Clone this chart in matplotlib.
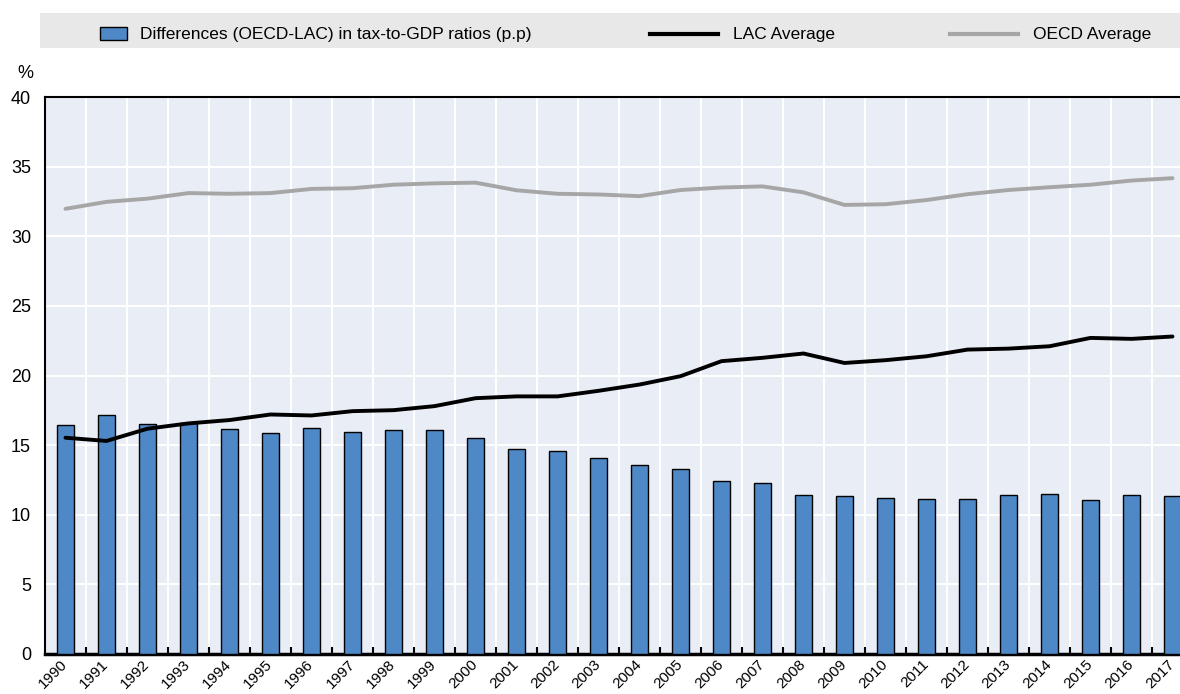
import matplotlib
matplotlib.use("Agg")
import matplotlib.pyplot as plt
import numpy as np
from matplotlib.patches import Rectangle
from matplotlib.lines import Line2D

plt.rcParams['font.family'] = ['Liberation Sans', 'DejaVu Sans']

years = [str(y) for y in range(1990, 2018)]

# OECD minus LAC gap, percentage points
gap = [16.44, 17.16, 16.51, 16.6, 16.18, 15.84, 16.25, 15.96, 16.06, 16.06,
       15.48, 14.74, 14.55, 14.05, 13.55, 13.26, 12.40, 12.28, 11.40, 11.35,
       11.18, 11.11, 11.16, 11.42, 11.47, 11.04, 11.40, 11.38]

lac_avg = [15.53, 15.3, 16.18, 16.56, 16.8, 17.2, 17.13, 17.44, 17.51, 17.8,
           18.37, 18.5, 18.5, 18.9, 19.35, 19.95, 21.03, 21.27, 21.58, 20.9,
           21.1, 21.38, 21.86, 21.93, 22.1, 22.7, 22.63, 22.8]

oecd_avg = [31.97, 32.47, 32.7, 33.1, 33.05, 33.1, 33.4, 33.45, 33.7, 33.8,
            33.85, 33.3, 33.05, 33.0, 32.88, 33.32, 33.5, 33.58, 33.15, 32.25,
            32.3, 32.6, 33.02, 33.32, 33.52, 33.7, 34.0, 34.17]

blue = '#4E88C7'
grey = '#A6A6A6'

fig = plt.figure(figsize=(11.8, 6.94), dpi=100)
ax = fig.add_axes([45 / 1180, 40 / 694, 1148 / 1180, 557 / 694])
ax.set_facecolor('#E9EDF6')

x = np.arange(len(years))
ax.bar(x, gap, width=0.42, color=blue, edgecolor='black', linewidth=1.0, zorder=3)
ax.plot(x, lac_avg, color='black', linewidth=2.8, solid_capstyle='round',
        solid_joinstyle='round', zorder=4)
ax.plot(x, oecd_avg, color=grey, linewidth=2.8, solid_capstyle='round',
        solid_joinstyle='round', zorder=4)

ax.set_xlim(-0.5, len(years) - 0.5)
ax.set_ylim(0, 40)
ax.set_yticks(range(0, 41, 5))
ax.set_xticks(x)
ax.set_xticklabels(years, rotation=45, ha='right', va='center',
                   rotation_mode='anchor', fontsize=11)
ax.set_xticks(x[:-1] + 0.5, minor=True)
ax.tick_params(axis='x', which='major', length=0, pad=6)
ax.tick_params(axis='x', which='minor', direction='in', length=5, width=1.5, color='black')
ax.tick_params(axis='y', length=0, labelsize=13, pad=10)

ax.grid(axis='y', color='white', linewidth=1.5, zorder=0)
ax.grid(axis='x', which='minor', color='white', linewidth=1.5, zorder=0)
ax.set_axisbelow(True)

for side in ['left', 'top', 'right']:
    ax.spines[side].set_linewidth(1.5)
ax.spines['bottom'].set_linewidth(2.5)

fig.text(25 / 1180, 1 - 73 / 694, '%', fontsize=13, ha='center', va='center')

# legend band
fig.patches.append(Rectangle((40 / 1180, 1 - 48 / 694), 1140 / 1180, 35 / 694,
                             transform=fig.transFigure, facecolor='#E8E8E8',
                             edgecolor='none', zorder=0))
ly = 1 - 34 / 694
fig.patches.append(Rectangle((100 / 1180, 1 - 40 / 694), 27 / 1180, 13 / 694,
                             transform=fig.transFigure, facecolor=blue,
                             edgecolor='black', linewidth=1.0))
fig.text(140 / 1180, ly, 'Differences (OECD-LAC) in tax-to-GDP ratios (p.p)',
         fontsize=12.5, va='center')
fig.lines.append(Line2D([650 / 1180, 718 / 1180], [ly, ly], transform=fig.transFigure,
                        color='black', linewidth=3))
fig.text(733 / 1180, ly, 'LAC Average', fontsize=12.5, va='center')
fig.lines.append(Line2D([950 / 1180, 1018 / 1180], [ly, ly], transform=fig.transFigure,
                        color=grey, linewidth=3))
fig.text(1033 / 1180, ly, 'OECD Average', fontsize=12.5, va='center')

fig.savefig('out.png', dpi=100)
